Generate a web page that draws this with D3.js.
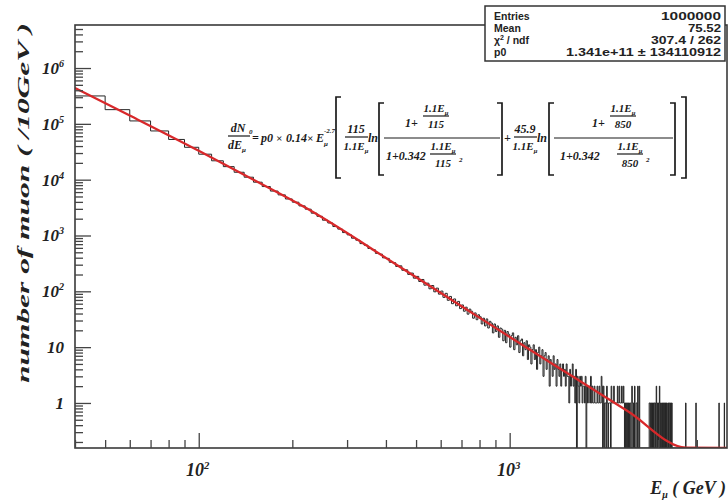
<!DOCTYPE html>
<html><head><meta charset="utf-8">
<script src="https://cdn.jsdelivr.net/npm/d3@7"></script>
<style>html,body{margin:0;padding:0;background:#fff;} svg{display:block}</style>
</head><body><svg id="c" width="728" height="500"></svg>
<script>
// ---------------- data ----------------
const binStart = 40;      // GeV, lower edge of first bin
const binWidth = 10;      // GeV per bin
// bins 40..690
const countsLow = [316200,179600,112800,74650,52550,38020,28610,21790,17120,13580,
  11070,9010,7530,6250,5340,4510,3950,3390,2960,2510,
  2205,1880,1675,1447,1301,1128,1027,894,823,716,
  671,585,556,478,463,398,389,331,326,279,
  286,238,243,201,212,172,185,150,163,129,
  140,111,127,98,114,89,101,78,92,69,
  81,60,73,55,66,49];
// bins 700..1490
const countsMid = [57,44,52,39,48,44,33,41,31,38,
  35,26,33,24,32,22,29,27,18,26,
  19,24,15,22,21,13,20,12,19,17,
  10,16,18,9,15,11,16,8,13,14,
  7,12,9,13,6,11,10,5,9,11,
  6,9,4,8,10,5,7,9,3,7,
  8,4,6,7,2,6,5,3,7,4,
  5,2,6,4,3,5,2,4,5,3];
// bins 1500..4990
const countsTail = [
  4,2,5,3,3,1,4,2,3,5,  2,3,1,4,0,3,2,1,3,2,  3,1,2,2,1,3,0,2,1,2,  2,1,3,1,2,1,1,2,1,1,
  1,2,1,1,2,1,1,3,2,0,  2,0,1,1,0,2,1,0,1,1,  1,0,2,1,1,1,2,1,1,1,  1,1,2,1,1,2,1,1,1,2,
  1,1,2,1,0,1,0,1,0,1,  0,1,0,1,1,0,0,2,1,0,  1,0,2,0,0,1,1,0,2,0,  0,2,0,0,0,0,0,0,0,0,
  0,0,0,0,0,0,0,0,0,0,  0,1,1,0,1,1,0,1,0,1,  0,1,1,0,1,0,2,1,0,1,  1,0,1,2,0,1,0,0,1,1,
  0,1,0,1,1,0,1,0,1,0,  1,0,0,1,0,1,1,0,0,1,  1,0,1,0,0,0,0,0,0,0,  0,0,0,0,0,0,0,0,0,0,
  0,0,0,0,0,0,0,0,0,0,  0,0,0,0,0,0,0,0,1,0,  0,0,0,0,0,0,0,0,0,0,  0,0,0,0,0,0,0,0,0,0,
  0,0,0,0,0,0,0,1,0,0,  0,0,0,0,0,0,0,0,0,0,  0,0,0,0,0,0,0,0,0,0,  0,0,0,0,0,0,0,0,0,0,
  0,0,0,0,0,0,0,0,0,0,  0,0,0,0,0,0,0,0,0,0,  0,0,0,0,0,0,0,0,0,0,  0,0,0,0,0,0,0,0,0,0,
  0,1,0,0,0,0,0,0,0,0,  0,0,0,0,0,0,0,0,0,0,  1,0,0,0,0,0,0,0,0,0];
// fitted curve
const fitE     = [40, 60, 100, 150, 223, 444, 700, 1077, 1600, 2400, 3690, 5000];
const fitValue = [4.4e5, 1.41e5, 3.30e4, 9980, 3040, 273, 54.2, 11.7, 2.94, 0.71, 0.158, 0.054];
// axes
const xDomain = [40, 5000];
const yDomain = [0.156, 5.9e6];
const yTickValues = [1, 10, 100, 1e3, 1e4, 1e5, 1e6];
const yTickLabels = [["1",""],["10",""],["10","2"],["10","3"],["10","4"],["10","5"],["10","6"]];
const xTickValues = [100, 1000];
const xTickLabels = [["10","2"],["10","3"]];
const yTitle = "number of muon ( /10GeV )";
const statNames  = ["Entries", "Mean", "χ2 / ndf", "p0"];
const statValues = ["1000000", "75.52", "307.4 / 262", "1.341e+11 ± 134110912"];

// ---------------- drawing ----------------
const svg = d3.select('#c');
const F = {l:75, r:727, t:25, b:448};
const x = d3.scaleLog().domain(xDomain).range([F.l, F.r]);
const y = d3.scaleLog().domain(yDomain).range([F.b, F.t]).clamp(true);
const serif = "'Liberation Serif','Times New Roman',serif";
const sans = "'Liberation Sans',Arial,sans-serif";

svg.append('defs').append('clipPath').attr('id','fr')
  .append('rect').attr('x',F.l).attr('y',F.t-1).attr('width',F.r-F.l).attr('height',F.b-F.t+1);

// histogram outline
const counts = countsLow.concat(countsMid, countsTail);
const pts = [];
counts.forEach((c,i)=>{
  const e0 = binStart + i*binWidth, e1 = e0 + binWidth;
  const yy = c > 0 ? y(c) : F.b;
  pts.push([x(e0), yy], [x(e1), yy]);
});
svg.append('path').attr('clip-path','url(#fr)')
  .attr('d', d3.line()(pts)).attr('fill','none')
  .attr('stroke','#262626').attr('stroke-width',1.0);

// fit curve
const fitLine = d3.line().x(d=>x(d[0])).y(d=>y(d[1])).curve(d3.curveMonotoneX);
svg.append('path').attr('clip-path','url(#fr)')
  .datum(d3.zip(fitE, fitValue)).attr('d', fitLine)
  .attr('fill','none').attr('stroke','#d8282a').attr('stroke-width',2.3);

// frame
svg.append('rect').attr('x',F.l).attr('y',F.t).attr('width',F.r-F.l).attr('height',F.b-F.t)
  .attr('fill','none').attr('stroke','#3a3a3a').attr('stroke-width',1.6);

// ticks
const yMinor = [];
for (let d=-1; d<=6; d++) for (let k=2;k<=9;k++){ const v=k*Math.pow(10,d); if (v>=yDomain[0] && v<=yDomain[1]) yMinor.push(v); }
const xMinor = [];
for (let d=1; d<=3; d++) for (let k=2;k<=9;k++){ const v=k*Math.pow(10,d); if (v>=xDomain[0] && v<xDomain[1]) xMinor.push(v); }
function styleAxis(g){ g.select('.domain').remove(); g.selectAll('line').attr('stroke','#444').attr('stroke-width',1.3); }
svg.append('g').attr('transform',`translate(${F.l},0)`)
  .call(d3.axisLeft(y).tickValues(yMinor).tickSize(-8).tickFormat('')).call(styleAxis);
svg.append('g').attr('transform',`translate(${F.l},0)`)
  .call(d3.axisLeft(y).tickValues(yTickValues).tickSize(-16).tickFormat('')).call(styleAxis);
svg.append('g').attr('transform',`translate(0,${F.b})`)
  .call(d3.axisBottom(x).tickValues(xMinor).tickSize(-8).tickFormat('')).call(styleAxis);
svg.append('g').attr('transform',`translate(0,${F.b})`)
  .call(d3.axisBottom(x).tickValues(xTickValues).tickSize(-15).tickFormat('')).call(styleAxis);

// tick labels
function powLabel(g, px, py, lab, anchor, size){
  const t = g.append('text').attr('x',px).attr('y',py).attr('text-anchor',anchor)
    .attr('font-family',serif).attr('font-style','italic').attr('font-weight','bold')
    .attr('font-size',size).attr('fill','#222');
  t.append('tspan').text(lab[0]);
  if (lab[1]) t.append('tspan').attr('dy',-7).attr('font-size',size*0.6).text(lab[1]);
  return t;
}
const gl = svg.append('g');
yTickValues.forEach((v,i)=> powLabel(gl, 64, y(v)+6, yTickLabels[i], 'end', 17));
xTickValues.forEach((v,i)=> powLabel(gl, x(v)-1, 476, xTickLabels[i], 'middle', 18));

// axis titles
svg.append('text').attr('transform','translate(29,203) rotate(-90)')
  .attr('text-anchor','middle').attr('font-family',serif).attr('font-style','italic')
  .attr('font-weight','bold').attr('font-size',17).attr('fill','#222')
  .attr('textLength',360).attr('lengthAdjust','spacingAndGlyphs').text(yTitle);
const xt = svg.append('text').attr('x',726).attr('y',494).attr('text-anchor','end')
  .attr('font-family',serif).attr('font-style','italic').attr('font-weight','bold')
  .attr('font-size',18).attr('fill','#222');
xt.append('tspan').text('E');
xt.append('tspan').attr('dy',4).attr('font-size',10).text('μ');
xt.append('tspan').attr('dy',-4).text(' ( GeV )');

// stats box
const sb = svg.append('g');
sb.append('rect').attr('x',485).attr('y',6).attr('width',240).attr('height',55)
  .attr('fill','#fff').attr('stroke','#333').attr('stroke-width',1.5);
const valueLen = [60, 33, 70, 155];
statNames.forEach((n,i)=>{
  const yy = 19.5 + i*12;
  const t = sb.append('text').attr('x',494).attr('y',yy).attr('font-family',sans)
    .attr('font-weight','bold').attr('font-size',10.5).attr('fill','#222');
  if (n.startsWith('χ2')) {
    t.append('tspan').text('χ');
    t.append('tspan').attr('dy',-4).attr('font-size',7).text('2');
    t.append('tspan').attr('dy',4).text(n.slice(2));
  } else t.text(n);
  sb.append('text').attr('x',721).attr('y',yy).attr('text-anchor','end').attr('font-family',sans)
    .attr('font-weight','bold').attr('font-size',10.5).attr('fill','#222')
    .attr('textLength',valueLen[i]).attr('lengthAdjust','spacingAndGlyphs').text(statValues[i]);
});

// formula
const fg = svg.append('g').attr('font-family',serif).attr('font-style','italic')
  .attr('font-weight','bold').attr('fill','#1a1a1a');
function T(px,py,s,size,anchor){ return fg.append('text').attr('x',px).attr('y',py).attr('font-size',size).attr('text-anchor',anchor||'start').text(s); }
function bar(x1,x2,yy){ fg.append('line').attr('x1',x1).attr('x2',x2).attr('y1',yy).attr('y2',yy).attr('stroke','#1a1a1a').attr('stroke-width',1.2); }
function brk(x0,y0,y1,dir){ const w=5*dir; fg.append('path').attr('d',`M${x0+w},${y0}H${x0}V${y1}H${x0+w}`).attr('fill','none').attr('stroke','#1a1a1a').attr('stroke-width',1.7); }
function Esub(px,py,size,anchor){ const t=T(px,py,'',size,anchor); t.append('tspan').text('1.1E'); t.append('tspan').attr('dy',3).attr('font-size',size*0.6).text('μ'); return t; }
// dN/dE
T(238,132,'dN',12,'middle'); bar(228,250,136);
const dE = T(237,149,'',12,'middle'); dE.append('tspan').text('dE'); dE.append('tspan').attr('dy',3).attr('font-size',7).text('μ');
T(249,134,'0',7);
// = p0 x 0.14 x E
T(252,142,'=',12); T(261,142,'p0',12); T(276,142,'×',11); T(286,142,'0.14',12); T(307,142,'×',11); T(316,142,'E',12);
T(324,146,'μ',7); T(324,133,'-2.7',7);
brk(336,97,178,1);
// 115 / 1.1E ln
T(356,133,'115',12,'middle'); bar(345,368,137); Esub(356,150,11,'middle');
T(368,142,'ln',12);
brk(379,103,175,1);
// first log fraction
bar(384,500,138);
T(405,127,'1+',12); Esub(436,112,11,'middle'); bar(423,449,116); T(436,128,'115',11,'middle');
T(386,160,'1+0.342',12); Esub(443,150,11,'middle'); bar(430,456,154); T(443,167,'115',11,'middle'); T(459,162,'2',7);
brk(502,103,175,-1);
T(504,142,'+',12);
T(525,133,'45.9',12,'middle'); bar(514,537,137); Esub(525,150,11,'middle');
T(537,142,'ln',12);
brk(549,103,175,1);
// second log fraction
bar(554,673,138);
T(592,127,'1+',12); Esub(623,112,11,'middle'); bar(610,636,116); T(623,128,'850',11,'middle');
T(560,160,'1+0.342',12); Esub(630,150,11,'middle'); bar(617,643,154); T(630,167,'850',11,'middle'); T(646,162,'2',7);
brk(675,103,175,-1);
brk(686,97,178,-1);
</script></body></html>
